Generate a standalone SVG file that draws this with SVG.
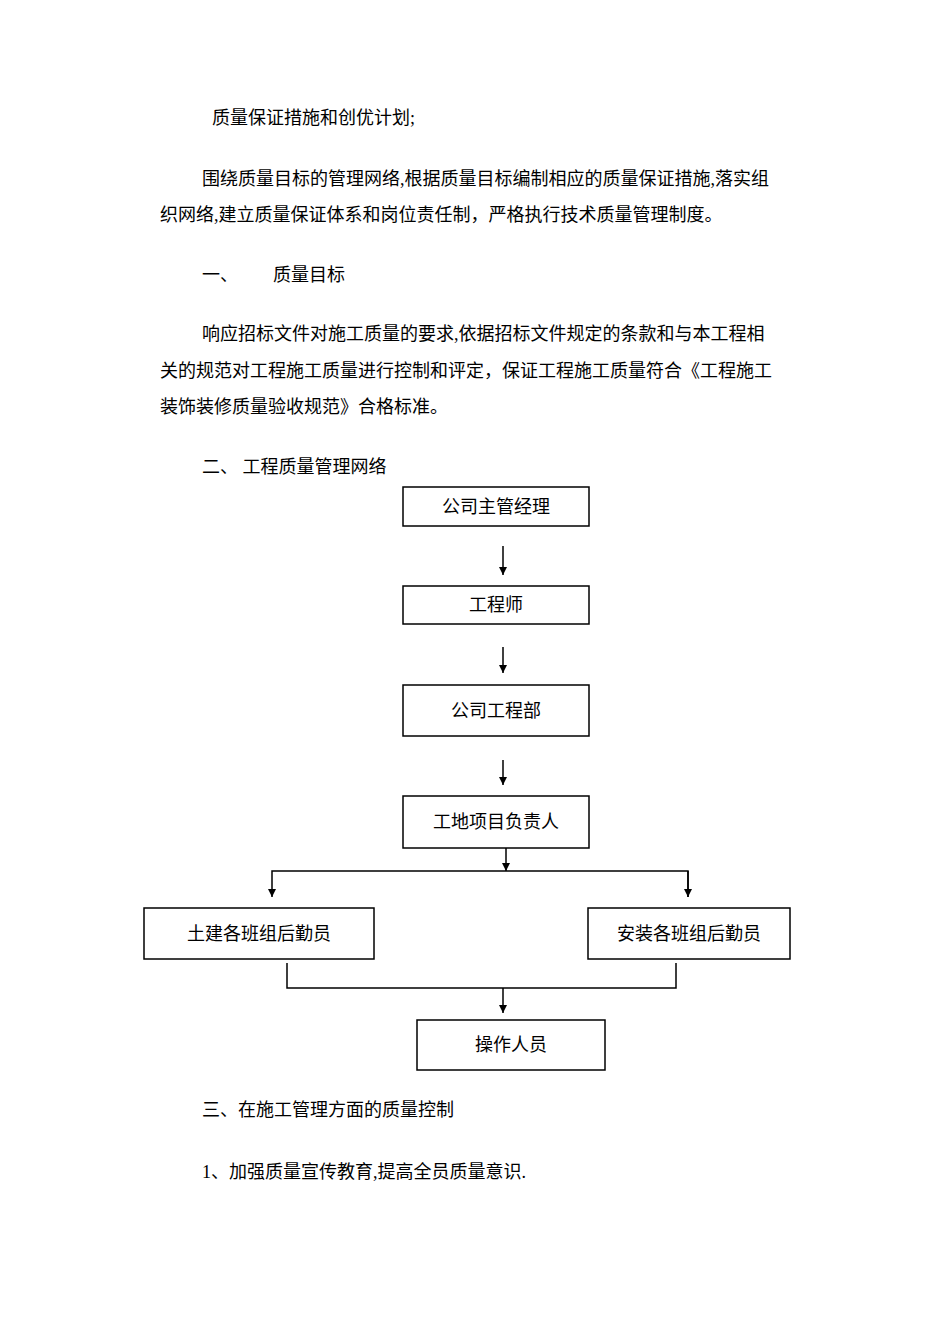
<svg xmlns="http://www.w3.org/2000/svg" width="950" height="1344" viewBox="0 0 950 1344">
<style>
text{font-family:"Liberation Serif","Noto Sans CJK SC",serif;fill:#000;font-size:18px}
.b rect{fill:#fff;stroke:#000;stroke-width:1.5}
.b text{text-anchor:middle}
#c line,#c polyline{stroke:#000;stroke-width:1.5;fill:none}
</style>
<defs><marker id="a" viewBox="0 0 10 10" refX="10" refY="5" markerWidth="8" markerHeight="8" markerUnits="userSpaceOnUse" orient="auto"><path d="M0,0L10,5L0,10z" fill="#000"/></marker></defs>
<rect width="950" height="1344" fill="#fff"/>
<text x="212" y="124" font-size="16">质量保证措施和创优计划;</text>
<text x="202" y="185">围绕质量目标的管理网络,根据质量目标编制相应的质量保证措施,落实组</text>
<text x="160" y="221">织网络,建立质量保证体系和岗位责任制，严格执行技术质量管理制度。</text>
<text x="202" y="281">一、</text><text x="273" y="281">质量目标</text>
<text x="202" y="340">响应招标文件对施工质量的要求,依据招标文件规定的条款和与本工程相</text>
<text x="160" y="377">关的规范对工程施工质量进行控制和评定，保证工程施工质量符合《工程施工</text>
<text x="160" y="413">装饰装修质量验收规范》合格标准。</text>
<text x="202" y="473">二、 工程质量管理网络</text>
<text x="202" y="1116">三、在施工管理方面的质量控制</text>
<text x="202" y="1178">1、加强质量宣传教育,提高全员质量意识.</text>
<g id="c">
<line x1="503" y1="546" x2="503" y2="575" marker-end="url(#a)"/>
<line x1="503" y1="647" x2="503" y2="673" marker-end="url(#a)"/>
<line x1="503" y1="760" x2="503" y2="785" marker-end="url(#a)"/>
<line x1="506" y1="848" x2="506" y2="871" marker-end="url(#a)"/>
<polyline points="688,897 688,871 272,871 272,897" marker-end="url(#a)"/>
<line x1="688" y1="871" x2="688" y2="897" marker-end="url(#a)"/>
<polyline points="287,963 287,988 676,988 676,963"/>
<line x1="503" y1="988" x2="503" y2="1013" marker-end="url(#a)"/>
</g>
<g id="n1" class="b"><rect x="403" y="487" width="186" height="39"/><text x="496" y="513">公司主管经理</text></g>
<g id="n2" class="b"><rect x="403" y="586" width="186" height="38"/><text x="496" y="611">工程师</text></g>
<g id="n3" class="b"><rect x="403" y="685" width="186" height="51"/><text x="496" y="717">公司工程部</text></g>
<g id="n4" class="b"><rect x="403" y="796" width="186" height="52"/><text x="496" y="828">工地项目负责人</text></g>
<g id="n5" class="b"><rect x="144" y="908" width="230" height="51"/><text x="259" y="940">土建各班组后勤员</text></g>
<g id="n6" class="b"><rect x="588" y="908" width="202" height="51"/><text x="689" y="940">安装各班组后勤员</text></g>
<g id="n7" class="b"><rect x="417" y="1020" width="188" height="50"/><text x="511" y="1051">操作人员</text></g>
</svg>
